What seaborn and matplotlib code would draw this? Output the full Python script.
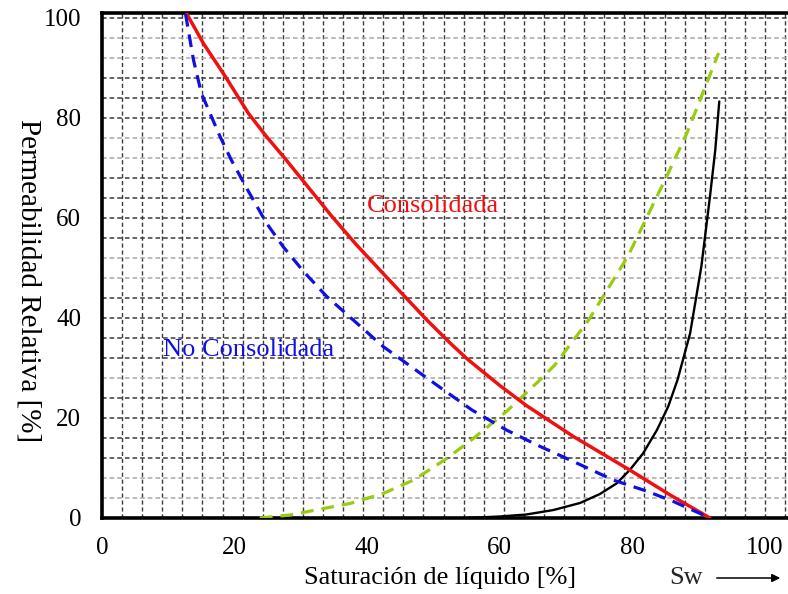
import numpy as np
import pandas as pd
import matplotlib
matplotlib.use("Agg")
import matplotlib.pyplot as plt
import seaborn as sns

# ---- data ----
cons_x = [12.8, 15.3, 18.6, 22.1, 24.8, 27.6, 30.9, 34.5, 38.2, 42.4, 49.0, 52.5, 55.0,
          60.0, 64.0, 71.1, 79.6, 85.7, 91.7]
cons_y = [100.8, 94.9, 88.3, 80.9, 76.3, 71.9, 66.5, 60.6, 54.9, 48.9, 39.6, 35.0, 31.9,
          26.5, 22.5, 16.3, 9.6, 4.6, 0.0]

nocons_x = [12.6, 13.8, 15.0, 16.3, 17.8, 19.5, 22.1, 24.8, 27.3, 30.4, 33.9, 42.4, 49.0, 55.8,
            61.0, 66.1, 71.1, 77.1, 82.1, 86.2, 91.2, 91.7]
nocons_y = [100.8, 91.6, 84.9, 80.9, 76.3, 71.6, 65.3, 59.0, 54.3, 49.3, 44.3, 34.3, 28.0, 21.6,
            17.6, 14.3, 11.3, 7.6, 5.4, 3.3, 0.3, 0.0]

green_x = [23.8, 28.4, 33.4, 37.4, 42.4, 47.0, 52.0, 56.0, 61.0, 65.8, 68.3, 73.4, 79.3, 85.2,
           88.2, 90.2, 93.0]
green_y = [0.0, 0.6, 1.9, 2.9, 4.9, 7.6, 11.9, 15.9, 21.3, 27.3, 30.6, 39.6, 52.3, 68.4,
           76.9, 83.6, 93.0]

black_x = [55.0, 60.0, 64.0, 68.1, 72.1, 75.1, 77.6, 79.6, 81.6, 83.7, 85.4, 86.8, 88.7, 90.4,
           91.7, 92.5, 93.1]
black_y = [0.0, 0.3, 0.7, 1.6, 3.0, 4.8, 6.9, 9.6, 12.9, 17.6, 22.3, 27.6, 36.9, 50.3,
           64.3, 73.6, 83.3]

x_ticks = [0, 20, 40, 60, 80, 100]
y_ticks = [0, 20, 40, 60, 80, 100]
light_rows = [4, 8, 28, 48, 52, 72, 76, 92, 96]

sns.set_theme(style="white")
plt.rcParams['font.family'] = ['Liberation Serif', 'DejaVu Serif']

fig = plt.figure(figsize=(7.88, 5.94), dpi=100)
ax = fig.add_axes([102/788, 1-518/594, 1-102/788, (518-13)/594])

XMAX = (788-102)/6.63
YMAX = 101.0
ax.set_xlim(0, XMAX)
ax.set_ylim(0, YMAX)

# grid
for gx in np.arange(100/33, XMAX, 100/33):
    ax.axvline(gx, color='#3a3a3a', lw=1.0, ls=(0, (3, 2)), zorder=1)
for gy in np.arange(4, YMAX, 4):
    c = '#a8a8a8' if int(round(gy)) in light_rows else '#3a3a3a'
    ax.axhline(gy, color=c, lw=1.1, ls=(0, (3, 2)), zorder=1)

def df(x, y):
    return pd.DataFrame({'x': x, 'y': y})

sns.lineplot(data=df(cons_x, cons_y), x='x', y='y', ax=ax, color='#f01010', lw=2.5, sort=False, zorder=4)
sns.lineplot(data=df(nocons_x, nocons_y), x='x', y='y', ax=ax, color='#1010e0', lw=2.3, sort=False,
             linestyle=(0, (4, 2.5)), zorder=4)
sns.lineplot(data=df(green_x, green_y), x='x', y='y', ax=ax, color='#99cc11', lw=2.3, sort=False,
             linestyle=(0, (4, 2.5)), zorder=3)
sns.lineplot(data=df(black_x, black_y), x='x', y='y', ax=ax, color='black', lw=1.7, sort=False, zorder=3)

ax.text(40.0, 62.5, 'Consolidada', color='#f01010', fontsize=19, va='center', ha='left', zorder=5)
ax.text(9.2, 33.6, 'No Consolidada', color='#1010e0', fontsize=19, va='center', ha='left', zorder=5)

ax.set_xticks(x_ticks)
ax.set_yticks(y_ticks)
ax.tick_params(axis='both', length=0, labelsize=18, colors='black')
ax.tick_params(axis='x', pad=14)
ax.tick_params(axis='y', pad=15)

ax.set_xlabel('Saturación de líquido [%]', fontsize=19, color='black', va='center')
ax.xaxis.set_label_coords((440-102)/686, -(578-518)/505)
ax.set_ylabel('Permeabilidad Relativa [%]', fontsize=21, color='black', rotation=270, va='center')
ax.yaxis.set_label_coords((28-102)/686, (518-281)/505)

for s in ['left', 'bottom', 'top']:
    ax.spines[s].set_visible(True)
    ax.spines[s].set_color('black')
    ax.spines[s].set_linewidth(2.6)
ax.spines['right'].set_visible(False)

fig.text(686/788, 1-578/594, 'Sw', fontsize=19, ha='center', va='center')
ax.annotate('', xy=(783/788, 1-578/594), xytext=(714/788, 1-578/594),
            xycoords='figure fraction', textcoords='figure fraction',
            arrowprops=dict(arrowstyle='-|>', color='black', lw=1.1, mutation_scale=12),
            annotation_clip=False)

fig.savefig('out.png', dpi=100)
